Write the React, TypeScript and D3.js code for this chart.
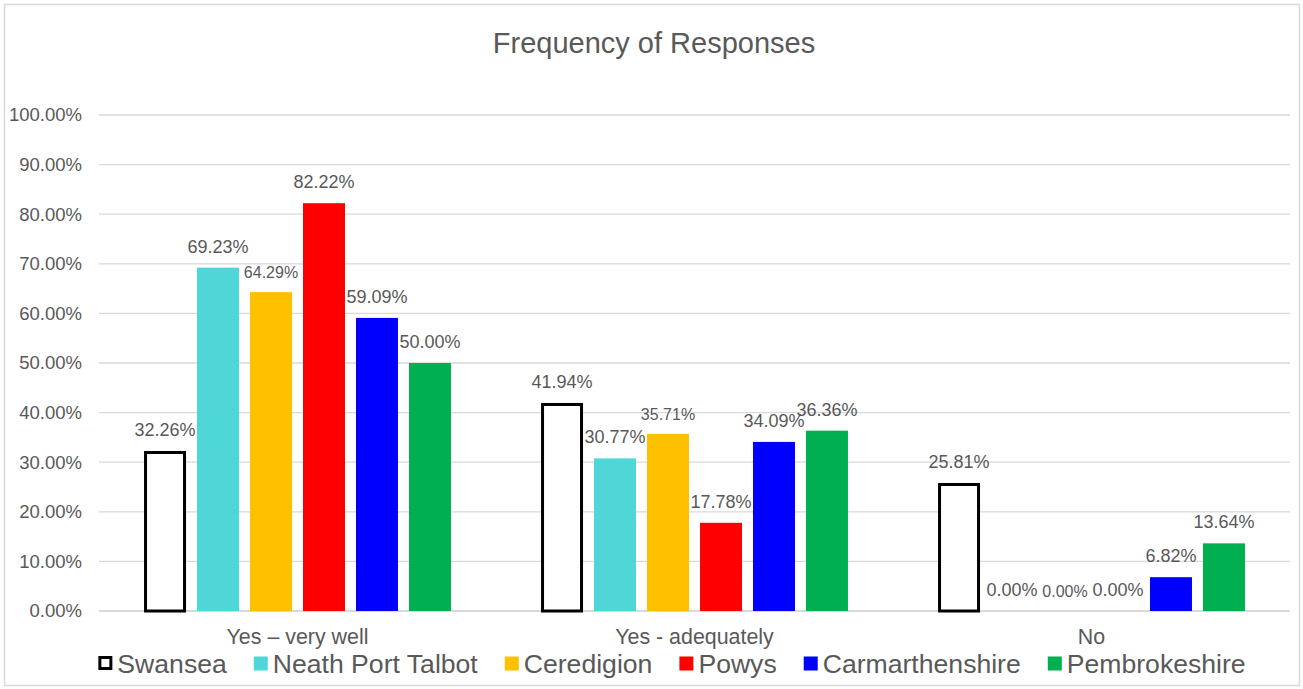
import React, { useEffect, useRef } from "react";
import * as d3 from "d3";

const categories = ["Yes – very well", "Yes - adequately", "No"];
const seriesNames = ["Swansea", "Neath Port Talbot", "Ceredigion", "Powys", "Carmarthenshire", "Pembrokeshire"];
const seriesColors = ["#FFFFFF", "#4FD6D6", "#FFC000", "#FF0000", "#0000FF", "#00B050"];
const swansea = [32.26, 41.94, 25.81];
const neath = [69.23, 30.77, 0.0];
const ceredigion = [64.29, 35.71, 0.0];
const powys = [82.22, 17.78, 0.0];
const carmarthenshire = [59.09, 34.09, 6.82];
const pembrokeshire = [50.0, 36.36, 13.64];
const yTicks = [0, 10, 20, 30, 40, 50, 60, 70, 80, 90, 100];
const title = "Frequency of Responses";

const W = 1303;
const H = 689;
const FONT = "'Liberation Sans', Arial, sans-serif";
const TEXT = "#595959";

export default function App() {
  const ref = useRef<SVGSVGElement>(null);

  useEffect(() => {
    const svg = d3.select(ref.current);
    svg.selectAll("*").remove();
    const allSeries = [swansea, neath, ceredigion, powys, carmarthenshire, pembrokeshire];

    const left = 99, right = 1290, top = 115, bottom = 611;
    const y = d3.scaleLinear().domain([0, 100]).range([bottom, top]);
    const x0 = d3.scaleBand<string>().domain(categories).range([left, right]).padding(0);
    const x1 = d3.scaleBand<string>().domain(seriesNames).range([0, x0.bandwidth()])
      .paddingInner(0.2075).paddingOuter(0.85);

    // border
    svg.append("rect").attr("x", 4.5).attr("y", 4.5).attr("width", 1295).attr("height", 681)
      .attr("fill", "#fff").attr("stroke", "#D9D9D9").attr("stroke-width", 1.5);

    // title
    svg.append("text").attr("x", 654).attr("y", 53).attr("text-anchor", "middle")
      .attr("font-family", FONT).attr("font-size", 29).attr("fill", TEXT).text(title);

    // gridlines
    const g = svg.append("g");
    g.selectAll("line.grid").data(yTicks).enter().append("line")
      .attr("x1", left).attr("x2", right)
      .attr("y1", (d) => y(d)).attr("y2", (d) => y(d))
      .attr("stroke", "#D9D9D9").attr("stroke-width", (d) => (d === 0 ? 2 : 1.3));
    g.selectAll("text.tick").data(yTicks).enter().append("text")
      .attr("x", 82).attr("y", (d) => y(d)).attr("dy", "0.35em")
      .attr("text-anchor", "end").attr("font-family", FONT).attr("font-size", 18.5)
      .attr("fill", TEXT).text((d) => d3.format(".2f")(d) + "%");

    // bars
    categories.forEach((cat, ci) => {
      const cg = svg.append("g").attr("transform", `translate(${x0(cat)},0)`);
      seriesNames.forEach((s, si) => {
        const v = allSeries[si][ci];
        const bx = x1(s)!;
        const bw = x1.bandwidth();
        if (si === 0) {
          cg.append("rect").attr("x", bx + 1.5).attr("y", y(v) + 1.5)
            .attr("width", bw - 3).attr("height", Math.max(0, y(0) - y(v) - 1.5))
            .attr("fill", "#fff").attr("stroke", "#000").attr("stroke-width", 3);
        } else if (v > 0) {
          cg.append("rect").attr("x", bx).attr("y", y(v))
            .attr("width", bw).attr("height", y(0) - y(v))
            .attr("fill", seriesColors[si]);
        }
        const fs = si === 2 ? 16 : 18;
        cg.append("text").attr("x", bx + bw / 2).attr("y", y(v) - (si === 2 ? 14 : 15))
          .attr("text-anchor", "middle").attr("font-family", FONT).attr("font-size", fs)
          .attr("fill", TEXT).text(d3.format(".2f")(v) + "%");
      });
      svg.append("text").attr("x", x0(cat)! + x0.bandwidth() / 2).attr("y", 644)
        .attr("text-anchor", "middle").attr("font-family", FONT).attr("font-size", 21.4)
        .attr("fill", TEXT).text(cat);
    });

    // legend
    const lg = svg.append("g");
    const items: { g: any; w: number }[] = [];
    seriesNames.forEach((s, si) => {
      const ig = lg.append("g");
      if (si === 0) {
        ig.append("rect").attr("x", 1.5).attr("y", -15.5).attr("width", 11).attr("height", 11)
          .attr("fill", "#fff").attr("stroke", "#000").attr("stroke-width", 3);
      } else {
        ig.append("rect").attr("x", 0).attr("y", -16.5).attr("width", 14).attr("height", 14)
          .attr("fill", seriesColors[si]);
      }
      const t = ig.append("text").attr("x", 19).attr("y", 0).attr("font-family", FONT)
        .attr("font-size", 26.6).attr("fill", TEXT).text(s);
      const tw = (t.node() as SVGTextElement).getComputedTextLength();
      items.push({ g: ig, w: 19 + tw });
    });
    const gap = 27;
    const total = items.reduce((a, b) => a + b.w, 0) + gap * (items.length - 1);
    let cx = 672 - total / 2;
    items.forEach((it) => {
      it.g.attr("transform", `translate(${cx},673)`);
      cx += it.w + gap;
    });
  }, []);

  return (
    <svg ref={ref} width={W} height={H}
      style={{ position: "absolute", left: 0, top: 0, background: "#fff" }} />
  );
}
